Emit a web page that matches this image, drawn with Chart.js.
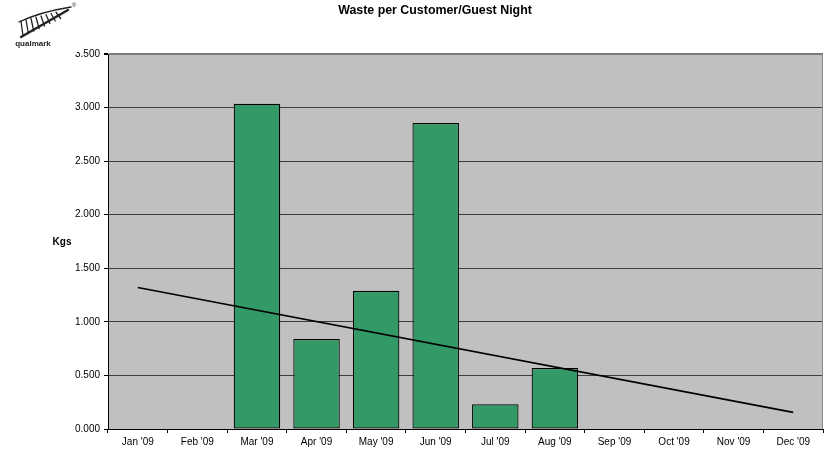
<!DOCTYPE html>
<html>
<head>
<meta charset="utf-8">
<title>Waste per Customer/Guest Night</title>
<script src="https://cdn.jsdelivr.net/npm/chart.js@4.4.0/dist/chart.umd.min.js"></script>
<style>
  html, body { margin: 0; padding: 0; background: #fff; }
  #wrap { position: relative; width: 826px; height: 456px; }
</style>
</head>
<body>
<div id="wrap"><canvas id="wasteChart" width="826" height="456"></canvas></div>
<script>
const months = ["Jan '09", "Feb '09", "Mar '09", "Apr '09", "May '09", "Jun '09",
                "Jul '09", "Aug '09", "Sep '09", "Oct '09", "Nov '09", "Dec '09"];
const wastePerNight = [0, 0, 3.035, 0.84, 1.29, 2.855, 0.23, 0.57, 0, 0, 0, 0];
// linear trend, only the two end points are drawn and joined
const trendLine = [1.32, null, null, null, null, null, null, null, null, null, null, 0.155];
const yTicks = [0, 0.5, 1, 1.5, 2, 2.5, 3, 3.5];

const FONT = "'Liberation Sans', Arial, sans-serif";

// plot background, frame, title, axis caption and the logo
const decorPlugin = {
  id: "decor",
  beforeDraw(chart) {
    const { ctx, chartArea: a } = chart;
    ctx.save();
    ctx.fillStyle = "#c0c0c0";
    ctx.fillRect(a.left, a.top, a.right - a.left, a.bottom - a.top);
    ctx.restore();
  },
  afterDraw(chart) {
    const { ctx, chartArea: a } = chart;
    ctx.save();
    // right edge of the plot
    ctx.strokeStyle = "#8c8c8c";
    ctx.lineWidth = 1;
    ctx.beginPath();
    ctx.moveTo(a.right - 0.5, a.top);
    ctx.lineTo(a.right - 0.5, a.bottom);
    ctx.stroke();

    ctx.fillStyle = "#000";
    ctx.font = "bold 12.4px " + FONT;
    ctx.textAlign = "center";
    ctx.textBaseline = "middle";
    ctx.fillText("Waste per Customer/Guest Night", 435, 11);

    ctx.font = "bold 10px " + FONT;
    ctx.fillText("Kgs", 62, 242);

    // logo box sits over the corner
    ctx.fillStyle = "#fff";
    ctx.fillRect(0, 0, 81, 52);
    drawLogo(ctx);
    ctx.restore();
  }
};

// small silver-fern mark with the word underneath
function drawLogo(ctx) {
  ctx.save();
  ctx.strokeStyle = "#222";
  ctx.fillStyle = "#222";
  ctx.lineCap = "round";
  // upper edge of the frond
  ctx.lineWidth = 1.3;
  ctx.beginPath();
  ctx.moveTo(19, 22);
  ctx.quadraticCurveTo(40, 12, 71, 7);
  ctx.stroke();
  // midrib, heavier
  ctx.lineWidth = 2.4;
  ctx.beginPath();
  ctx.moveTo(21, 37);
  ctx.quadraticCurveTo(40, 26, 68, 10);
  ctx.stroke();
  // leaflets hanging between the two edges
  ctx.lineWidth = 1.3;
  for (let i = 0; i < 8; i++) {
    const t = i / 8;
    const x0 = 21 + t * 40;
    const y0 = 21 - t * 10;
    const x1 = x0 + 2 + t * 3;
    const y1 = 36 - t * 20;
    ctx.beginPath();
    ctx.moveTo(x0, y0);
    ctx.lineTo(x1, y1);
    ctx.stroke();
  }
  ctx.font = "6px " + FONT;
  ctx.textAlign = "left";
  ctx.textBaseline = "middle";
  ctx.fillText("\u00ae", 72, 5);
  ctx.font = "bold 8px " + FONT;
  ctx.textAlign = "center";
  ctx.fillText("qualmark", 33, 44);
  ctx.restore();
}

const ctx = document.getElementById("wasteChart").getContext("2d");

new Chart(ctx, {
  data: {
    labels: months,
    datasets: [
      {
        type: "line",
        label: "Trend",
        data: trendLine,
        borderColor: "#000",
        borderWidth: 1.6,
        pointRadius: 0,
        spanGaps: true,
        fill: false,
        order: 0
      },
      {
        type: "bar",
        label: "Kgs",
        data: wastePerNight,
        backgroundColor: "#339966",
        borderColor: "#000",
        borderWidth: 1.2,
        borderSkipped: false,
        barPercentage: 0.78,
        categoryPercentage: 1,
        order: 1
      }
    ]
  },
  options: {
    responsive: false,
    animation: false,
    layout: { padding: { top: 54, right: 3, left: 0, bottom: 0 } },
    plugins: {
      legend: { display: false },
      title: { display: false },
      tooltip: { enabled: false }
    },
    scales: {
      x: {
        offset: true,
        afterFit(scale) { scale.height = 27; },
        grid: {
          offset: true,
          drawOnChartArea: false,
          drawTicks: true,
          tickLength: 4,
          tickColor: "#000"
        },
        border: { display: true, color: "#000", width: 1 },
        ticks: {
          color: "#000",
          padding: 3,
          maxRotation: 0,
          autoSkip: false,
          font: { family: FONT, size: 10 }
        }
      },
      y: {
        min: 0,
        max: 3.5,
        afterFit(scale) { scale.width = 108; },
        afterBuildTicks(scale) {
          scale.ticks = yTicks.map(v => ({ value: v }));
        },
        grid: {
          color: c => (c.tick && c.tick.value === 3.5 ? "#7a7a7a" : "#3c3c3c"),
          lineWidth: c => (c.tick && c.tick.value === 3.5 ? 2 : 1),
          drawTicks: true,
          tickLength: 4,
          tickColor: "#000"
        },
        border: { display: true, color: "#000", width: 1 },
        ticks: {
          color: "#000",
          padding: 4,
          font: { family: FONT, size: 10 },
          callback: v => Number(v).toFixed(3)
        }
      }
    }
  },
  plugins: [decorPlugin]
});
</script>
</body>
</html>
